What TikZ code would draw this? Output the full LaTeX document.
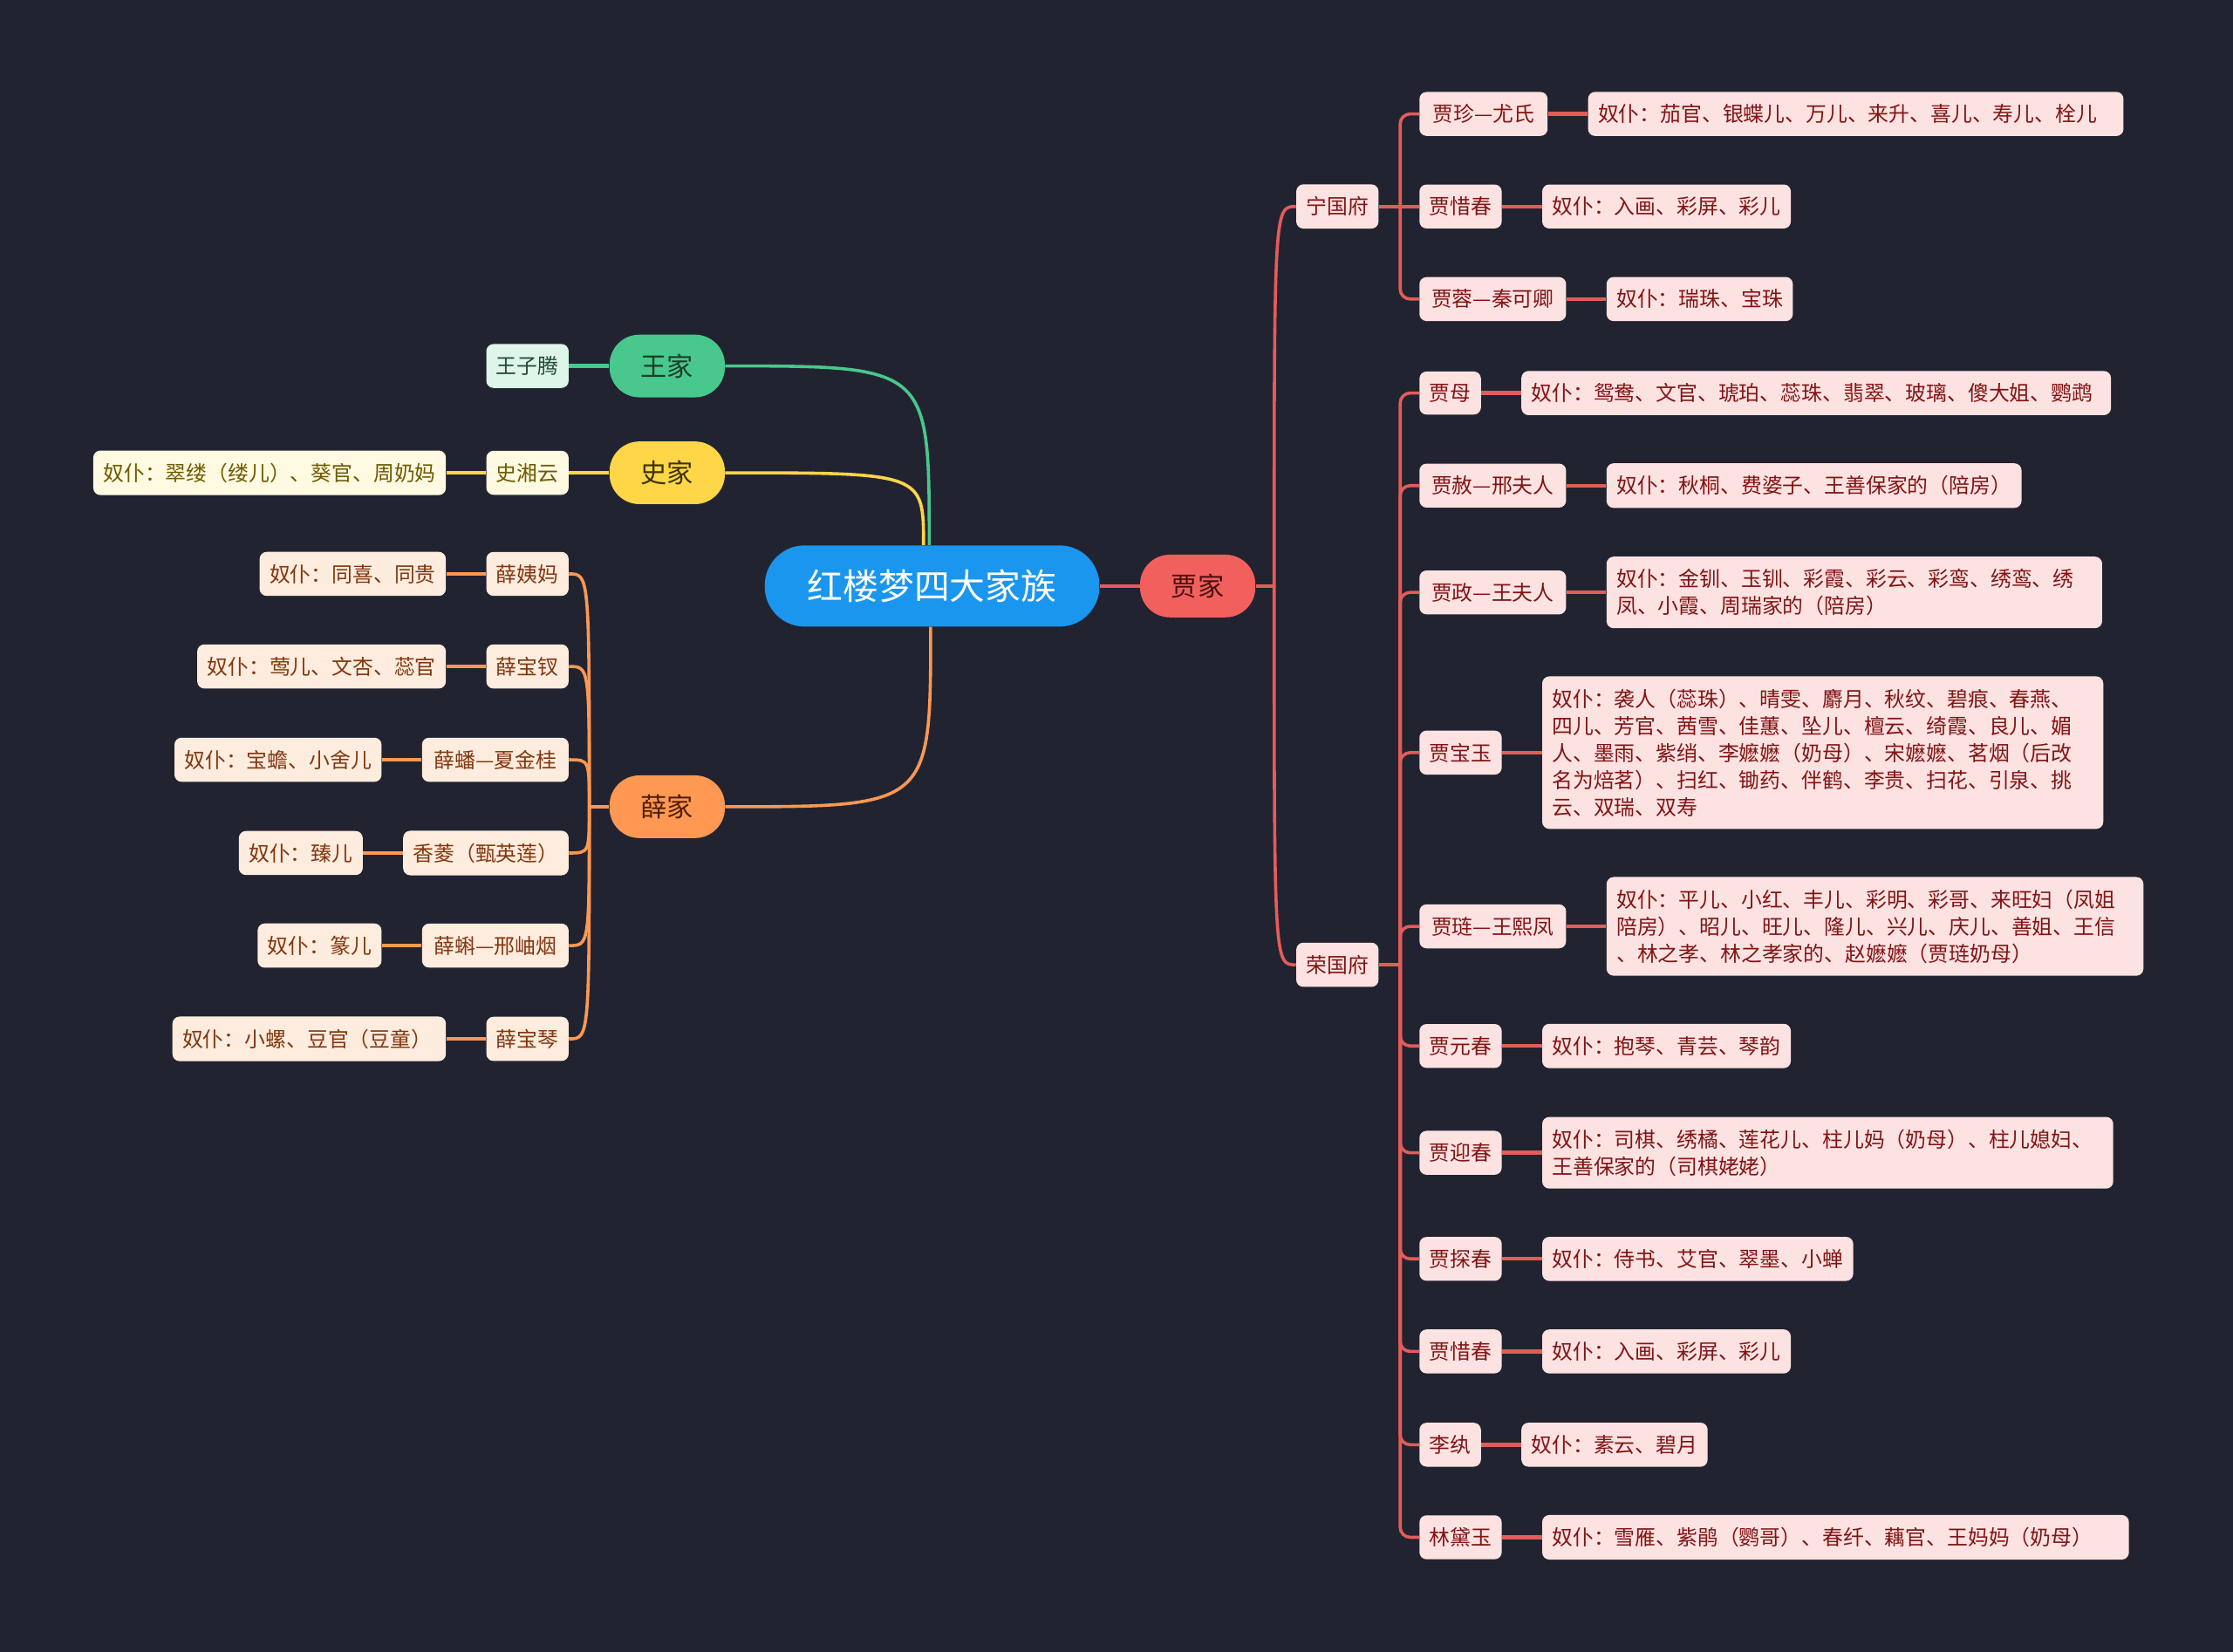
\documentclass[tikz,border=0pt]{standalone}
\usepackage{fontspec}
\setmainfont{Noto Sans CJK SC}
\usetikzlibrary{positioning}
\definecolor{bgdark}{RGB}{33,36,48}
\definecolor{hubblue}{RGB}{26,150,238}
\definecolor{jiared}{RGB}{242,96,94}
\definecolor{jiadark}{RGB}{70,15,15}
\definecolor{jiapale}{RGB}{253,226,226}
\definecolor{jiatext}{RGB}{130,20,20}
\definecolor{jiawire}{RGB}{228,92,90}
\definecolor{wanggreen}{RGB}{72,200,140}
\definecolor{wangdark}{RGB}{25,60,40}
\definecolor{wangpale}{RGB}{222,245,234}
\definecolor{wangtext}{RGB}{30,75,50}
\definecolor{shiyellow}{RGB}{255,214,72}
\definecolor{shidark}{RGB}{60,50,0}
\definecolor{shipale}{RGB}{255,250,225}
\definecolor{shitext}{RGB}{110,90,0}
\definecolor{xueorange}{RGB}{255,152,82}
\definecolor{xuedark}{RGB}{80,30,5}
\definecolor{xuepale}{RGB}{254,236,222}
\definecolor{xuetext}{RGB}{130,55,15}

\begin{document}
\begin{tikzpicture}[x=1pt,y=-1pt,node distance=28pt,
 font=\fontsize{14.6}{19}\selectfont,
 hub/.style={fill=hubblue,text=white,rounded corners=28pt,minimum width=235pt,minimum height=57pt,font=\fontsize{25}{30}\selectfont},
 fam/.style={rounded corners=21pt,minimum width=81pt,minimum height=44pt,font=\fontsize{18.5}{22}\selectfont},
 leaf/.style={rounded corners=5pt,inner xsep=7pt,inner ysep=8.7pt,align=left},
 pair/.style={minimum width=103pt},
 jleaf/.style={leaf,fill=jiapale,text=jiatext},
 wleaf/.style={leaf,fill=wangpale,text=wangtext},
 sleaf/.style={leaf,fill=shipale,text=shitext},
 xleaf/.style={leaf,fill=xuepale,text=xuetext},
 jwire/.style={draw=jiawire,line width=2.2pt},
 jlink/.style={draw=jiawire,line width=2.7pt},
 wwire/.style={draw=wanggreen,line width=2.2pt},
 swire/.style={draw=shiyellow,line width=2.2pt},
 xwire/.style={draw=xueorange,line width=2.2pt}]
\useasboundingbox (0,0) rectangle (1568,1160);
\fill[bgdark] (0,0) rectangle (1568,1160);

\node[hub] (hlm) at (654.5,411.5) {红楼梦四大家族};
\node[fam,fill=jiared,text=jiadark] (jia) at (841,411.5) {贾家};
\node[fam,fill=wanggreen,text=wangdark] (wang) at (468.5,257) {王家};
\node[fam,fill=shiyellow,text=shidark] (shi) at (468.5,332) {史家};
\node[fam,fill=xueorange,text=xuedark] (xue) at (468.5,566.5) {薛家};

\node[wleaf,anchor=east] (wzt) at (399.5,257) {王子腾};
\node[sleaf,anchor=east] (sxy) at (399.5,332) {史湘云};
\node[sleaf,left=of sxy] (sxyp) {奴仆：翠缕（缕儿）、葵官、周奶妈};

\node[xleaf,anchor=east] (xym) at (399.5,403) {薛姨妈};
\node[xleaf,left=of xym] (xymp) {奴仆：同喜、同贵};
\node[xleaf,anchor=east] (xbc) at (399.5,468) {薛宝钗};
\node[xleaf,left=of xbc] (xbcp) {奴仆：莺儿、文杏、蕊官};
\node[xleaf,pair,anchor=east] (xp) at (399.5,533.5) {薛蟠—夏金桂};
\node[xleaf,left=of xp] (xpp) {奴仆：宝蟾、小舍儿};
\node[xleaf,anchor=east] (xl) at (399.5,599) {香菱（甄英莲）};
\node[xleaf,left=of xl] (xlp) {奴仆：臻儿};
\node[xleaf,pair,anchor=east] (xk) at (399.5,664) {薛蝌—邢岫烟};
\node[xleaf,left=of xk] (xkp) {奴仆：篆儿};
\node[xleaf,anchor=east] (xbq) at (399.5,729.5) {薛宝琴};
\node[xleaf,left=of xbq,text width=178pt] (xbqp) {奴仆：小螺、豆官（豆童）};

\node[jleaf,anchor=west] (ngf) at (910,145) {宁国府};
\node[jleaf,anchor=west] (rgf) at (910,677.5) {荣国府};

\node[jleaf,anchor=west,minimum width=90pt] (jz) at (996.5,80) {贾珍—尤氏};
\node[jleaf,right=of jz,text width=362pt] (jzp) {奴仆：茄官、银蝶儿、万儿、来升、喜儿、寿儿、栓儿};
\node[jleaf,anchor=west] (jxa) at (996.5,145) {贾惜春};
\node[jleaf,right=of jxa] (jxap) {奴仆：入画、彩屏、彩儿};
\node[jleaf,pair,anchor=west] (jr) at (996.5,210) {贾蓉—秦可卿};
\node[jleaf,right=of jr] (jrp) {奴仆：瑞珠、宝珠};

\node[jleaf,anchor=west] (jm) at (996.5,276) {贾母};
\node[jleaf,right=of jm,text width=400pt] (jmp) {奴仆：鸳鸯、文官、琥珀、蕊珠、翡翠、玻璃、傻大姐、鹦鹉};
\node[jleaf,pair,anchor=west] (js) at (996.5,341) {贾赦—邢夫人};
\node[jleaf,right=of js] (jsp) {奴仆：秋桐、费婆子、王善保家的（陪房）};
\node[jleaf,pair,anchor=west] (jzw) at (996.5,416) {贾政—王夫人};
\node[jleaf,right=of jzw,text width=334pt] (jzwp) {奴仆：金钏、玉钏、彩霞、彩云、彩鸾、绣鸾、绣\\凤、小霞、周瑞家的（陪房）};
\node[jleaf,anchor=west] (jby) at (996.5,528.5) {贾宝玉};
\node[jleaf,right=of jby,text width=380pt] (jbyp) {奴仆：袭人（蕊珠）、晴雯、麝月、秋纹、碧痕、春燕、\\四儿、芳官、茜雪、佳蕙、坠儿、檀云、绮霞、良儿、媚\\人、墨雨、紫绡、李嬷嬷（奶母）、宋嬷嬷、茗烟（后改\\名为焙茗）、扫红、锄药、伴鹤、李贵、扫花、引泉、挑\\云、双瑞、双寿};
\node[jleaf,pair,anchor=west] (jl) at (996.5,650.5) {贾琏—王熙凤};
\node[jleaf,right=of jl,text width=363pt] (jlp) {奴仆：平儿、小红、丰儿、彩明、彩哥、来旺妇（凤姐\\陪房）、昭儿、旺儿、隆儿、兴儿、庆儿、善姐、王信\\、林之孝、林之孝家的、赵嬷嬷（贾琏奶母）};
\node[jleaf,anchor=west] (jyc) at (996.5,734.5) {贾元春};
\node[jleaf,right=of jyc] (jycp) {奴仆：抱琴、青芸、琴韵};
\node[jleaf,anchor=west] (jyi) at (996.5,809.5) {贾迎春};
\node[jleaf,right=of jyi,text width=387pt] (jyip) {奴仆：司棋、绣橘、莲花儿、柱儿妈（奶母）、柱儿媳妇、\\王善保家的（司棋姥姥）};
\node[jleaf,anchor=west] (jtc) at (996.5,884) {贾探春};
\node[jleaf,right=of jtc] (jtcp) {奴仆：侍书、艾官、翠墨、小蝉};
\node[jleaf,anchor=west] (jxb) at (996.5,949) {贾惜春};
\node[jleaf,right=of jxb] (jxbp) {奴仆：入画、彩屏、彩儿};
\node[jleaf,anchor=west] (ln) at (996.5,1014.5) {李纨};
\node[jleaf,right=of ln] (lnp) {奴仆：素云、碧月};
\node[jleaf,anchor=west] (ldy) at (996.5,1079.5) {林黛玉};
\node[jleaf,right=of ldy,text width=398pt] (ldyp) {奴仆：雪雁、紫鹃（鹦哥）、春纤、藕官、王妈妈（奶母）};

\coordinate (jj) at ([xshift=13pt]jia.east);
\coordinate (nj) at ([xshift=15pt]ngf.east);
\coordinate (rj) at ([xshift=15pt]rgf.east);
\coordinate (xj) at ([xshift=-14pt]xue.west);

\draw[jlink] (hlm) -- (jia);
\draw[wwire] ([xshift=-2pt]hlm.north) .. controls ([xshift=-2pt]hlm.north |- wang.east) .. (wang.east);
\draw[swire] ([xshift=-6pt]hlm.north) .. controls ([xshift=-6pt]hlm.north |- shi.east) .. (shi.east);
\draw[xwire] ([xshift=-1pt]hlm.south) .. controls ([xshift=-1pt]hlm.south |- xue.east) .. (xue.east);

\draw[wwire,line width=2.7pt] (wang) -- (wzt);
\draw[swire,line width=2.7pt] (shi) -- (sxy);
\draw[swire,line width=2.7pt] (sxy) -- (sxyp);

\draw[xwire] (xue) -- (xj);
\draw[xwire] (xj) .. controls (xj |- xym.east) .. (xym.east);
\draw[xwire] (xj) .. controls (xj |- xbc.east) .. (xbc.east);
\draw[xwire] (xj) .. controls (xj |- xp.east) .. (xp.east);
\draw[xwire] (xj) .. controls (xj |- xl.east) .. (xl.east);
\draw[xwire] (xj) .. controls (xj |- xk.east) .. (xk.east);
\draw[xwire] (xj) .. controls (xj |- xbq.east) .. (xbq.east);
\draw[xwire,line width=2.7pt] (xym) -- (xymp);
\draw[xwire,line width=2.7pt] (xbc) -- (xbcp);
\draw[xwire,line width=2.7pt] (xp) -- (xpp);
\draw[xwire,line width=2.7pt] (xl) -- (xlp);
\draw[xwire,line width=2.7pt] (xk) -- (xkp);
\draw[xwire,line width=2.7pt] (xbq) -- (xbqp);

\draw[jlink] (jia) -- (jj);
\draw[jwire] (jj) .. controls (jj |- ngf.west) .. (ngf.west);
\draw[jwire] (jj) .. controls (jj |- rgf.west) .. (rgf.west);

\draw[jwire] (ngf) -- (nj);
\draw[jwire,rounded corners=7pt] (nj) |- (jz.west);
\draw[jwire] (nj) -- (jxa.west);
\draw[jwire,rounded corners=7pt] (nj) |- (jr.west);
\draw[jlink] (jz) -- (jzp);
\draw[jlink] (jxa) -- (jxap);
\draw[jlink] (jr) -- (jrp);

\draw[jwire] (rgf) -- (rj);
\draw[jwire,rounded corners=7pt] (rj) |- (jm.west);
\draw[jwire,rounded corners=7pt] (rj) |- (js.west);
\draw[jwire,rounded corners=7pt] (rj) |- (jzw.west);
\draw[jwire,rounded corners=7pt] (rj) |- (jby.west);
\draw[jwire,rounded corners=7pt] (rj) |- (jl.west);
\draw[jwire,rounded corners=7pt] (rj) |- (jyc.west);
\draw[jwire,rounded corners=7pt] (rj) |- (jyi.west);
\draw[jwire,rounded corners=7pt] (rj) |- (jtc.west);
\draw[jwire,rounded corners=7pt] (rj) |- (jxb.west);
\draw[jwire,rounded corners=7pt] (rj) |- (ln.west);
\draw[jwire,rounded corners=7pt] (rj) |- (ldy.west);
\draw[jlink] (jm) -- (jmp);
\draw[jlink] (js) -- (jsp);
\draw[jlink] (jzw) -- (jzwp);
\draw[jlink] (jby) -- (jbyp);
\draw[jlink] (jl) -- (jlp);
\draw[jlink] (jyc) -- (jycp);
\draw[jlink] (jyi) -- (jyip);
\draw[jlink] (jtc) -- (jtcp);
\draw[jlink] (jxb) -- (jxbp);
\draw[jlink] (ln) -- (lnp);
\draw[jlink] (ldy) -- (ldyp);
\end{tikzpicture}
\end{document}
